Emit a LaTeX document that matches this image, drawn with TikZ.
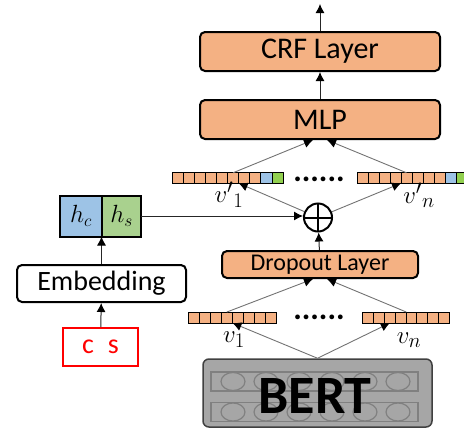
\documentclass[tikz,border=0pt]{standalone}
\usepackage{fontspec}
\setmainfont{Carlito}
\usetikzlibrary{arrows.meta,positioning}
\definecolor{layerorange}{HTML}{F4B183}
\definecolor{hcblue}{HTML}{9DC3E6}
\definecolor{hsgreen}{HTML}{A9D18E}
\definecolor{cellgreen}{HTML}{92D050}
\definecolor{bertgray}{HTML}{A6A6A6}

\begin{document}
\begin{tikzpicture}[x=1pt,y=-1pt,
    layer/.style={draw, line width=2pt, rounded corners=5pt, fill=layerorange, inner sep=0pt,
        minimum width=240pt, minimum height=39pt, font=\fontsize{30}{36}\selectfont},
    vcell/.style={draw, line width=0.8pt, fill=layerorange, inner sep=0pt, outer sep=0pt,
        minimum width=11.1pt, minimum height=10.5pt},
    feed/.style={draw=black!55, line width=0.9pt, -{Latex[length=9pt,width=9pt,color=black]}},
    flow/.style={draw=black!85, line width=1pt, -{Latex[length=9pt,width=9pt,color=black]}},
    hbox/.style={draw, line width=2pt, inner sep=0pt, outer sep=0pt, minimum height=41pt,
        font=\fontsize{26}{30}\selectfont},
    bertline/.style={draw=black!50, line width=1.2pt},
    dots/.style={font=\fontsize{32}{38}\selectfont\bfseries},
    vlabel/.style={font=\fontsize{24.88}{30}\selectfont}]

    \useasboundingbox (0,0) rectangle (464,429);

    % top of the stack
    \coordinate (out) at (320,4);
    \node[layer] (crf) at (320,51.5) {CRF Layer};
    \node[layer] (mlp) at (320,119.5) {MLP};
    \draw[flow] (mlp) -- (crf);
    \draw[flow] (crf) -- (out);

    % concatenated vectors
    \foreach \i in {1,...,8} \node[vcell] (a\i) at (166.5+11.1*\i,178) {};
    \foreach \i/\c in {9/hcblue,10/cellgreen} \node[vcell, fill=\c] (a\i) at (166.5+11.1*\i,178) {};
    \foreach \i in {1,...,8} \node[vcell] (b\i) at (351.5+11*\i,178) {};
    \foreach \i/\c in {9/hcblue,10/cellgreen} \node[vcell, fill=\c] (b\i) at (351.5+11*\i,178) {};
    \node[dots] (dotsup) at (319,179) {......};
    \node[vlabel] (vup1) at (229,195) {${v'}_1$};
    \node[vlabel] (vupn) at (419,195) {${v'}_n$};
    \draw[feed] (a6.north) -- ([xshift=-7pt]mlp.south);
    \draw[feed] (b5.north) -- ([xshift=7pt]mlp.south);

    % fusion
    \node[circle, draw, line width=2pt, minimum size=28pt, inner sep=0pt,
        path picture={\draw[line width=2pt] (path picture bounding box.north) -- (path picture bounding box.south)
            (path picture bounding box.west) -- (path picture bounding box.east);}] (oplus) at (318,217.5) {};
    \draw[feed] (oplus) -- (a6.south east);
    \draw[feed] (oplus) -- (b4.south east);

    % entity side
    \node[hbox, fill=hcblue, minimum width=42pt] (hc) at (81,216) {$h_c$};
    \node[hbox, fill=hsgreen, minimum width=39pt, anchor=west] (hs) at (hc.east) {$h_s$};
    \node[draw, line width=2pt, rounded corners=5pt, fill=white, minimum width=169pt, minimum height=37pt,
        font=\fontsize{28}{34}\selectfont] (emb) at (101.5,283.5) {Embedding};
    \node[draw=red, line width=2pt, text=red, minimum width=75pt, minimum height=38pt,
        font=\fontsize{28}{34}\selectfont] (cs) at (100.5,347) {c\hspace{14pt}s};
    \draw[flow] (cs) -- (emb);
    \draw[flow] (emb.north) -- (emb.north |- hc.south);
    \draw[flow] (hs.east) -- (hs.east -| oplus.west);

    % dropout and token vectors
    \node[layer, minimum width=196pt, minimum height=27pt, font=\fontsize{24}{29}\selectfont] (drop) at (320,264.5) {Dropout Layer};
    \draw[flow] (drop) -- (oplus);
    \foreach \i in {1,...,8} \node[vcell, minimum height=11pt] (c\i) at (182.5+11.1*\i,317.5) {};
    \foreach \i in {1,...,8} \node[vcell, minimum height=11pt] (d\i) at (357.5+10.8*\i,317.5) {};
    \node[dots] (dotslo) at (319,317) {......};
    \node[vlabel] (vlo1) at (234,340) {$v_1$};
    \node[vlabel] (vlon) at (409,340) {$v_n$};
    \draw[feed] (c4.north) -- ([xshift=-7pt]drop.south);
    \draw[feed] (d4.north east) -- ([xshift=7pt]drop.south);

    % encoder
    \node[draw=black!75, line width=1.5pt, rounded corners=6pt, fill=bertgray,
        minimum width=229pt, minimum height=68pt] (bert) at (317.5,393) {};
    \foreach \y in {381.5,412} {
        \draw[bertline] (211,\y-9.5) rectangle (418,\y+9.5);
        \foreach \x in {233,266,...,398} \draw[bertline] (\x,\y) ellipse [x radius=12pt, y radius=9pt];
    }
    \node[font=\fontsize{54}{60}\selectfont\bfseries] (bertlbl) at (315,395.5) {BERT};
    \draw[feed] (bert.north) -- (c4.south east);
    \draw[feed] (bert.north) -- (d3.south);
\end{tikzpicture}
\end{document}
